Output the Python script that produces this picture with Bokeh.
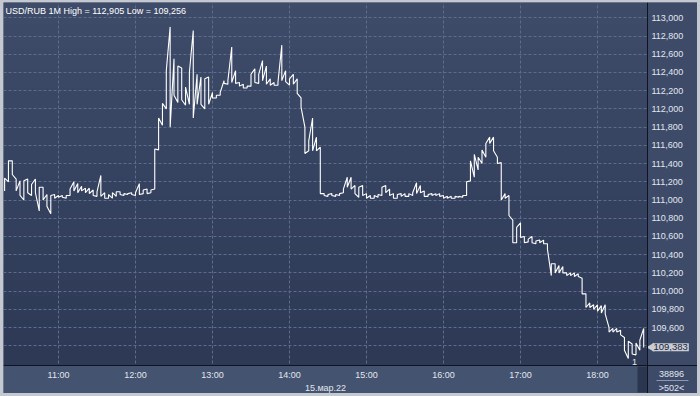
import numpy as np
from bokeh.plotting import figure
from bokeh.models import Range1d, FixedTicker, Label
from bokeh.layouts import column
from bokeh.embed import file_html
from bokeh.resources import INLINE

# ---------------- data (USD/RUB, 15.03.22, minutes since 10:00) ----------------
start_minute = 18          # first bar at 10:18
bar_minutes = 3            # each reading covers 3 minutes

highs = [111.24, 111.43, 111.43, 111.23, 111.21, 111.21, 111.23, 111.17, 111.23, 111.14,
         111.14, 111.06, 111.05, 111.06, 111.05, 111.05, 111.05, 111.12, 111.20, 111.18,
         111.15, 111.13, 111.13, 111.11, 111.09, 111.27, 111.08, 111.06, 111.08, 111.09,
         111.09, 111.07, 111.07, 111.08, 111.08, 111.18, 111.11, 111.12, 111.11, 111.56,
         111.90, 112.06, 112.42, 112.90, 112.55, 112.47, 112.45, 112.24, 112.40, 112.86,
         112.38, 112.35, 112.33, 112.35, 112.18, 112.15, 112.18, 112.31, 112.31, 112.68,
         112.42, 112.29, 112.27, 112.25, 112.38, 112.44, 112.38, 112.53, 112.47, 112.33,
         112.29, 112.29, 112.70, 112.42, 112.33, 112.38, 112.33, 112.12, 111.80, 111.65,
         111.90, 111.69, 111.58, 111.07, 111.06, 111.07, 111.06, 111.07, 111.12, 111.25,
         111.25, 111.16, 111.14, 111.16, 111.07, 111.05, 111.05, 111.06, 111.14, 111.16,
         111.12, 111.07, 111.06, 111.07, 111.07, 111.07, 111.08, 111.19, 111.16, 111.10,
         111.06, 111.07, 111.07, 111.07, 111.05, 111.04, 111.04, 111.04, 111.04, 111.05,
         111.20, 111.43, 111.50, 111.47, 111.55, 111.62, 111.69, 111.69, 111.47, 111.41,
         111.07, 111.05, 110.78, 110.70, 110.75, 110.60, 110.57, 110.60, 110.55, 110.56,
         110.56, 110.52, 110.30, 110.30, 110.28, 110.27, 110.20, 110.20, 110.20, 110.19,
         110.14, 109.97, 109.87, 109.85, 109.85, 109.84, 109.85, 109.60, 109.59, 109.59,
         109.57, 109.49, 109.45, 109.42, 109.43, 109.46, 109.59]

lows = [111.10, 111.20, 111.28, 111.10, 111.05, 111.00, 111.08, 111.05, 111.08, 110.88,
        111.00, 110.93, 110.85, 111.02, 111.03, 111.03, 111.02, 111.05, 111.10, 111.08,
        111.10, 111.08, 111.07, 111.05, 111.04, 111.04, 111.02, 111.02, 111.02, 111.04,
        111.06, 111.05, 111.06, 111.06, 111.05, 111.06, 111.07, 111.07, 111.08, 111.12,
        111.55, 111.82, 112.00, 111.80, 112.15, 112.07, 112.10, 112.04, 112.05, 111.90,
        112.05, 112.05, 112.00, 112.05, 112.12, 112.12, 112.15, 112.28, 112.27, 112.29,
        112.28, 112.25, 112.23, 112.23, 112.25, 112.29, 112.28, 112.31, 112.27, 112.26,
        112.26, 112.26, 112.31, 112.30, 112.26, 112.27, 112.17, 112.02, 111.51, 111.54,
        111.54, 111.54, 111.07, 111.05, 111.04, 111.05, 111.04, 111.05, 111.08, 111.14,
        111.12, 111.07, 111.03, 111.05, 111.02, 111.02, 111.02, 111.03, 111.05, 111.08,
        111.05, 111.02, 111.02, 111.04, 111.04, 111.04, 111.05, 111.07, 111.08, 111.04,
        111.04, 111.05, 111.05, 111.04, 111.02, 111.02, 111.02, 111.02, 111.03, 111.03,
        111.05, 111.21, 111.25, 111.33, 111.40, 111.47, 111.62, 111.54, 111.40, 111.00,
        111.02, 110.83, 110.53, 110.53, 110.59, 110.53, 110.54, 110.53, 110.52, 110.53,
        110.52, 110.46, 110.17, 110.20, 110.20, 110.20, 110.17, 110.17, 110.16, 110.16,
        109.97, 109.82, 109.82, 109.80, 109.78, 109.76, 109.75, 109.55, 109.55, 109.55,
        109.52, 109.35, 109.26, 109.31, 109.30, 109.35, 109.38]

last_price = 109.383
last_price_text = "109,383"
title_text = "USD/RUB 1M High = 112,905 Low = 109,256"
date_text = "15.мар.22"
corner_top_text = "38896"
corner_bottom_text = ">502<"

time_ticks = [60, 120, 180, 240, 300, 360, 420, 480]
time_labels = ["11:00", "12:00", "13:00", "14:00", "15:00", "16:00", "17:00", "18:00"]

price_ticks = [109.4, 109.6, 109.8, 110.0, 110.2, 110.4, 110.6, 110.8, 111.0,
               111.2, 111.4, 111.6, 111.8, 112.0, 112.2, 112.4, 112.6, 112.8, 113.0]
price_labels = ["", "109,600", "109,800", "110,000", "110,200", "110,400", "110,600",
                "110,800", "111,000", "111,200", "111,400", "111,600", "111,800",
                "112,000", "112,200", "112,400", "112,600", "112,800", "113,000"]

# ---------------- zig-zag path through each bar's low/high ----------------
times = [start_minute + bar_minutes * i for i in range(len(highs))]
xs, ys = [], []
for i, (t, h, l) in enumerate(zip(times, highs, lows)):
    if i + 1 < len(highs):
        nxt_mid = (highs[i + 1] + lows[i + 1]) / 2
        up = nxt_mid > (h + l) / 2
    else:
        up = False
    xs += [t, t]
    ys += ([l, h] if up else [h, l])

# ---------------- geometry (page pixels -> data) ----------------
PAD_L, PAD_T, PAD_R, PAD_B = 3, 2, 3, 3
W, H = 700 - PAD_L - PAD_R, 396 - PAD_T - PAD_B

def px_x(px):   # page x pixel -> minutes
    return 60 + (px - 58) / (77 / 60)

def px_y(py):   # page y pixel -> price
    return 113 - (py - 17.3) / 91.1

X0, X1 = px_x(PAD_L), px_x(700 - PAD_R)
Y0, Y1 = px_y(396 - PAD_B), px_y(PAD_T)
X_AXIS_AT = px_y(365)     # price level where the time axis sits
Y_AXIS_AT = px_x(647)     # minute where the price axis sits

p = figure(width=W, height=H, output_backend="svg", toolbar_location=None,
           x_range=Range1d(X0, X1), y_range=Range1d(Y0, Y1),
           y_axis_location="right",
           min_border_left=0, min_border_top=0, min_border_right=0, min_border_bottom=0)
p.outline_line_color = None
p.border_fill_color = "#3e4c6a"
p.background_fill_color = "#36435f"

# vertical gradient background for the chart area
n = 64
top = np.array([62, 76, 106]); bot = np.array([45, 57, 85])
img = np.empty((n, 1), dtype=np.uint32)
view = img.view(dtype=np.uint8).reshape((n, 1, 4))
for r in range(n):
    f = r / (n - 1)
    c = bot + (top - bot) * f
    view[r, 0, :3] = c.astype(np.uint8); view[r, 0, 3] = 255
p.image_rgba(image=[img], x=X0, y=X_AXIS_AT, dw=Y_AXIS_AT - X0, dh=Y1 - X_AXIS_AT, level="image")

grid_col = "#5d6c8a"
for g in (p.xgrid, p.ygrid):
    g.grid_line_color = grid_col
    g.grid_line_dash = "3 2"
    g.grid_line_width = 1
p.xgrid.ticker = FixedTicker(ticks=time_ticks)
p.ygrid.ticker = FixedTicker(ticks=price_ticks)

# side panels (cover the grid outside the chart area)
p.quad(left=[Y_AXIS_AT], right=[X1], bottom=[Y0], top=[Y1], fill_color="#3d4b69", line_color=None)
p.quad(left=[X0], right=[Y_AXIS_AT], bottom=[Y0], top=[X_AXIS_AT], fill_color="#44536f", line_color=None)
# dark scroll strip at the right end of the time axis
p.quad(left=[px_x(637)], right=[Y_AXIS_AT], bottom=[px_y(392)], top=[px_y(366)],
       fill_color="#2b3651", line_color=None)
# boundary line across the corner and separator between the counters
p.segment(x0=[Y_AXIS_AT], x1=[X1], y0=[X_AXIS_AT], y1=[X_AXIS_AT], line_color="#101420", line_width=1)
p.segment(x0=[px_x(656)], x1=[px_x(688)], y0=[px_y(380)], y1=[px_y(380)], line_color="#8d98ad", line_width=1)

font = "Liberation Sans"
lab_col = "#e2e6ee"

xa = p.xaxis[0]
xa.fixed_location = X_AXIS_AT
xa.bounds = (X0, Y_AXIS_AT)
xa.ticker = FixedTicker(ticks=time_ticks)
xa.major_label_overrides = {t: s for t, s in zip(time_ticks, time_labels)}
xa.axis_label = date_text
xa.axis_label_text_font_style = "normal"
xa.axis_label_text_font = font
xa.axis_label_text_font_size = "9px"
xa.axis_label_text_color = lab_col
xa.axis_label_standoff = 0
xa.major_label_text_font = font
xa.major_label_text_font_size = "9px"
xa.major_label_text_color = lab_col
xa.major_label_standoff = 4
xa.major_tick_out = 0
xa.major_tick_in = 0
xa.minor_tick_out = 0
xa.minor_tick_in = 0
xa.major_tick_line_color = None
xa.minor_tick_line_color = None
xa.axis_line_color = "#101420"

ya = p.yaxis[0]
ya.fixed_location = Y_AXIS_AT
ya.ticker = FixedTicker(ticks=price_ticks)
ya.major_label_overrides = {t: s for t, s in zip(price_ticks, price_labels)}
ya.major_label_text_font = font
ya.major_label_text_font_size = "9px"
ya.major_label_text_color = lab_col
ya.major_label_standoff = 4
ya.major_tick_out = 0
ya.major_tick_in = 0
ya.minor_tick_out = 0
ya.minor_tick_in = 0
ya.major_tick_line_color = None
ya.minor_tick_line_color = None
ya.axis_line_color = "#101420"

# price path
p.line(xs, ys, line_color="white", line_width=1.1)

# title inside the chart
p.add_layout(Label(x=px_x(5), y=px_y(10), text=title_text, text_font=font,
                   text_font_size="9px", text_color="white",
                   text_align="left", text_baseline="middle"))

# small "1" marker
p.add_layout(Label(x=px_x(634), y=px_y(361), text="1", text_font=font,
                   text_font_size="9px", text_color=lab_col,
                   text_align="center", text_baseline="middle"))

# last price marker on the price axis
p.scatter(x=[px_x(651)], y=[last_price], marker="triangle", size=9, angle=np.pi / 2,
          fill_color="#c8cdd5", line_color=None)
p.add_layout(Label(x=px_x(652), y=last_price, text=last_price_text, text_font=font,
                   text_font_size="9.5px", text_color="#1c2233",
                   text_align="left", text_baseline="middle",
                   background_fill_color="#c8cdd5", padding=1))

# counters in the lower-right corner
p.add_layout(Label(x=px_x(671), y=px_y(373), text=corner_top_text,
                   text_font=font, text_font_size="9px", text_color=lab_col,
                   text_align="center", text_baseline="middle"))
p.add_layout(Label(x=px_x(671), y=px_y(387), text=corner_bottom_text,
                   text_font=font, text_font_size="9px", text_color=lab_col,
                   text_align="center", text_baseline="middle"))

layout = column(p, styles={"padding": f"{PAD_T}px {PAD_R}px {PAD_B}px {PAD_L}px",
                           "background-color": "#c4c9d1"})

open("out.html", "w").write(file_html(layout, INLINE))
